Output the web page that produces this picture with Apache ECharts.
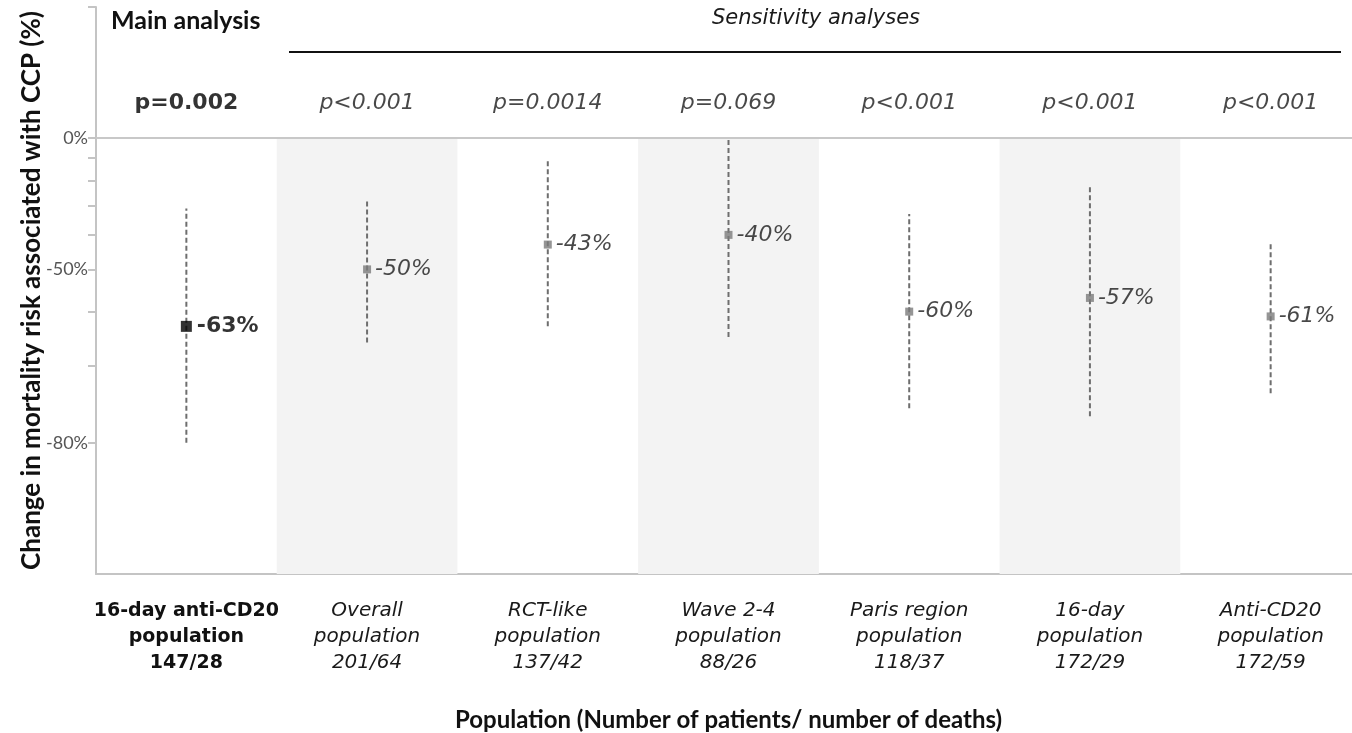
<!DOCTYPE html>
<html>
<head>
<meta charset="utf-8">
<script src="https://cdn.jsdelivr.net/npm/echarts@6/dist/echarts.min.js"></script>
<style>
  html, body { margin: 0; padding: 0; background: #fff; }
  #chart { width: 1352px; height: 733px; }
</style>
</head>
<body>
<div id="chart"></div>
<script>
// Populations (x positions 0..6); the first one is the main analysis
const categories = [
  '16-day anti-CD20\npopulation\n147/28',
  'Overall\npopulation\n201/64',
  'RCT-like\npopulation\n137/42',
  'Wave 2-4\npopulation\n88/26',
  'Paris region\npopulation\n118/37',
  '16-day\npopulation\n172/29',
  'Anti-CD20\npopulation\n172/59'
];
// Change in mortality risk (%) with 95% CI bounds
const estimate = [-63, -50, -43, -40, -60, -57, -61];
const ciLower  = [-80, -66, -63, -65, -76, -77, -74];
const ciUpper  = [-31, -28, -11,   0, -33, -22, -42];
const pValues  = ['p=0.002', 'p<0.001', 'p=0.0014', 'p=0.069', 'p<0.001', 'p<0.001', 'p<0.001'];
// y axis: labelled and ticked changes (%)
const yLabelTicks = [-80, -50, 0];
const yMinorTicks = [-90, -80, -70, -60, -50, -40, -30, -20, -10, 0, 100];
// shaded sensitivity bands (every other population)
const shadedBands = [1, 3, 5];

// the axis is a log scale of the hazard ratio (1 + change)
const toHR = v => 1 + v / 100;
const P_ROW_HR = 1.2;

const ITALIC = '"DejaVu Sans", sans-serif';
const BOLD = '"DejaVu Sans", sans-serif';

const chart = echarts.init(document.getElementById('chart'), null, { renderer: 'canvas' });

const labelRich = {
  b: { fontFamily: BOLD, fontWeight: 'bold', fontSize: 19, color: '#111', lineHeight: 26, align: 'center' },
  i: { fontFamily: ITALIC, fontStyle: 'italic', fontSize: 20, color: '#1a1a1a', lineHeight: 26, align: 'center' }
};

const pointData = estimate.map((v, i) => ({
  value: [i, toHR(v)],
  symbolSize: i === 0 ? 11 : 8,
  itemStyle: { color: i === 0 ? '#000' : '#7a7a7a' },
  label: i === 0
    ? { fontFamily: BOLD, fontWeight: 'bold', fontSize: 22, color: '#000', distance: 5 }
    : { fontFamily: ITALIC, fontStyle: 'italic', fontSize: 22, color: '#1a1a1a', distance: 4 }
}));

const pData = pValues.map((p, i) => ({
  value: [i, P_ROW_HR],
  label: i === 0
    ? { fontFamily: BOLD, fontWeight: 'bold', fontSize: 22, color: '#000' }
    : { fontFamily: ITALIC, fontStyle: 'italic', fontSize: 22, color: '#1a1a1a' }
}));

const option = {
  animation: false,
  backgroundColor: '#fff',
  grid: { left: 96, right: -9, top: 7, bottom: 159, containLabel: false, outerBoundsMode: 'none' },
  xAxis: {
    type: 'value',
    min: -0.5,
    max: 6.5,
    interval: 0.5,
    splitLine: { show: false },
    axisTick: { show: false },
    axisLine: { show: true, onZero: false, lineStyle: { color: '#c4c4c4', width: 2 } },
    axisLabel: {
      customValues: [0, 1, 2, 3, 4, 5, 6],
      margin: 24,
      formatter: v => {
        const key = v === 0 ? 'b' : 'i';
        return categories[v].split('\n').map(s => '{' + key + '|' + s + '}').join('\n');
      },
      rich: labelRich
    },
    name: 'Population (Number of patients/ number of deaths)',
    nameLocation: 'middle',
    nameGap: 134,
    nameMoveOverlap: false,
    nameTextStyle: { fontFamily: 'Lato, sans-serif', fontWeight: 'bold', fontSize: 24, color: '#111' }
  },
  yAxis: {
    type: 'log',
    logBase: 10,
    min: 0.1,
    max: 2,
    splitLine: { show: false },
    axisLine: { show: true, onZero: false, lineStyle: { color: '#c4c4c4', width: 2 } },
    axisTick: {
      show: true,
      length: 8,
      customValues: yMinorTicks.map(toHR),
      lineStyle: { color: '#c4c4c4', width: 2 }
    },
    axisLabel: {
      customValues: yLabelTicks.map(toHR),
      formatter: v => Math.round((v - 1) * 100) + '%',
      fontFamily: 'Lato, sans-serif',
      fontSize: 18,
      color: '#555',
      margin: 8
    },
    name: 'Change in mortality risk associated with CCP (%)',
    nameLocation: 'middle',
    nameGap: 51,
    nameMoveOverlap: false,
    nameTextStyle: { fontFamily: 'Lato, sans-serif', fontWeight: 'bold', fontSize: 26, color: '#111' }
  },
  series: [
    {
      // background bands and the 0% reference line
      type: 'scatter',
      data: [],
      silent: true,
      z: 0,
      markArea: {
        silent: true,
        itemStyle: { color: '#f3f3f3' },
        data: shadedBands.map(b => [
          { xAxis: b - 0.5, yAxis: toHR(-90) },
          { xAxis: b + 0.5, yAxis: toHR(0) }
        ])
      },
      markLine: {
        silent: true,
        symbol: 'none',
        label: { show: false },
        lineStyle: { color: '#c8c8c8', width: 2, type: 'solid' },
        data: [{ yAxis: toHR(0) }]
      }
    },
    {
      // confidence intervals
      type: 'custom',
      z: 2,
      data: estimate.map((v, i) => [i, toHR(ciLower[i]), toHR(ciUpper[i])]),
      renderItem: (params, api) => {
        const lo = api.coord([api.value(0), api.value(1)]);
        const hi = api.coord([api.value(0), api.value(2)]);
        return {
          type: 'line',
          shape: { x1: lo[0], y1: lo[1], x2: hi[0], y2: hi[1] },
          style: { stroke: '#6e6e6e', lineWidth: 2, lineDash: [5, 3] }
        };
      }
    },
    {
      // point estimates
      type: 'scatter',
      symbol: 'rect',
      z: 3,
      data: pointData,
      label: {
        show: true,
        position: 'right',
        formatter: p => estimate[p.dataIndex] + '%'
      }
    },
    {
      // p-values row
      type: 'scatter',
      symbolSize: 0,
      z: 3,
      silent: true,
      data: pData,
      label: {
        show: true,
        position: 'inside',
        formatter: p => pValues[p.dataIndex]
      }
    }
  ],
  graphic: [
    {
      type: 'text',
      left: 111, top: 8,
      style: { text: 'Main analysis', fontFamily: 'Lato, sans-serif', fontWeight: 'bold', fontSize: 25, fill: '#111' }
    },
    {
      type: 'text',
      x: 816, y: 19,
      style: { text: 'Sensitivity analyses', fontFamily: ITALIC, fontStyle: 'italic', fontSize: 21, fill: '#1a1a1a', align: 'center', verticalAlign: 'middle' }
    },
    {
      type: 'line',
      shape: { x1: 289, y1: 52, x2: 1341, y2: 52 },
      style: { stroke: '#111', lineWidth: 2 }
    }
  ]
};

chart.setOption(option);
</script>
</body>
</html>
